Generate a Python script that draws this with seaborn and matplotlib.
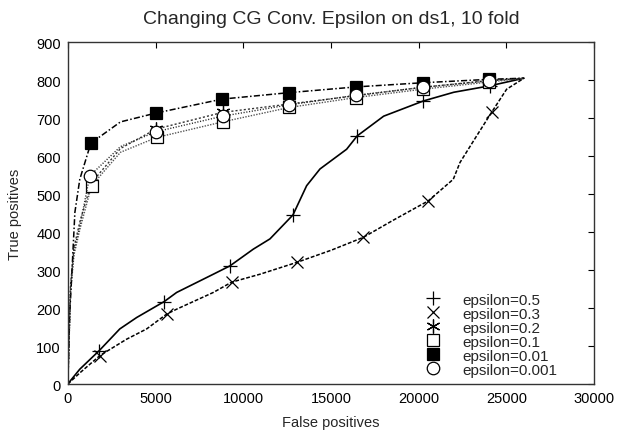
import matplotlib
matplotlib.use("Agg")
import matplotlib.pyplot as plt
import seaborn as sns
from matplotlib.lines import Line2D

sns.set_theme(style="white")
plt.rcParams['font.family'] = ['Liberation Sans', 'DejaVu Sans']

title = "Changing CG Conv. Epsilon on ds1, 10 fold"
xlabel = "False positives"
ylabel = "True positives"
xticks = [0, 5000, 10000, 15000, 20000, 25000, 30000]
yticks = [0, 100, 200, 300, 400, 500, 600, 700, 800, 900]

labels = ["epsilon=0.5", "epsilon=0.3", "epsilon=0.2", "epsilon=0.1",
          "epsilon=0.01", "epsilon=0.001"]

# epsilon=0.5
x05 = [0, 150, 680, 1790, 2960, 3920, 5490, 6200, 8290, 9240, 10570, 11520,
       12830, 13610, 14370, 15890, 16490, 18000, 20260, 22000, 24060, 26000]
y05 = [0, 9, 39, 88, 145, 175, 217, 241, 289, 311, 355, 382,
       445, 522, 566, 618, 653, 705, 745, 768, 785, 805]
m05 = [3, 6, 9, 12, 16, 18, 20]

# epsilon=0.3
x03 = [0, 700, 1830, 3350, 4490, 5630, 6200, 8290, 9330, 10950, 13040, 15000,
       16840, 18500, 20540, 21970, 22350, 23300, 24150, 25010, 26000]
y03 = [0, 30, 75, 118, 145, 184, 197, 241, 268, 289, 320, 352,
       386, 430, 482, 539, 583, 653, 715, 776, 805]
m03 = [2, 5, 8, 10, 12, 14, 18]

# epsilon=0.2
x02 = [0, 150, 350, 700, 1350, 3000, 5020, 8820, 12620, 16420, 20220, 24020, 26000]
y02 = [0, 260, 360, 430, 530, 620, 671, 715, 737, 759, 781, 799, 805]
m02 = [4, 6, 7, 8, 9, 10, 11]

# epsilon=0.1
x01 = [0, 150, 350, 700, 1350, 3000, 5060, 8820, 12620, 16420, 20220, 24020, 26000]
y01 = [0, 240, 340, 410, 522, 610, 649, 690, 728, 754, 776, 795, 805]
m01 = [4, 6, 7, 8, 9, 10, 11]

# epsilon=0.01
x001 = [0, 100, 210, 400, 680, 1310, 3000, 5000, 8800, 12620, 16420, 20220, 24020, 26000]
y001 = [0, 180, 276, 452, 539, 634, 690, 713, 750, 767, 782, 793, 802, 805]
m001 = [5, 7, 8, 9, 10, 11, 12]

# epsilon=0.001
x0001 = [0, 150, 350, 700, 1250, 3000, 5020, 8820, 12620, 16420, 20220, 24020, 26000]
y0001 = [0, 250, 350, 420, 548, 625, 664, 705, 735, 760, 781, 798, 805]
m0001 = [4, 6, 7, 8, 9, 10, 11]

series = [
    (x05, y05, m05, dict(color="black", ls="-", lw=1.2), dict(marker="+", ms=10, mew=0.9, mfc="none")),
    (x03, y03, m03, dict(color="black", ls=(0, (2.5, 1.2)), lw=1.1), dict(marker="x", ms=8, mew=0.9, mfc="none")),
    (x02, y02, m02, dict(color="#333333", ls=(0, (1.5, 1.5)), lw=1.0), dict(marker=(6, 2, 0), ms=10, mew=0.9, mfc="none")),
    (x01, y01, m01, dict(color="#555555", ls=(0, (1, 1)), lw=1.0), dict(marker="s", ms=8, mew=0.9, mfc="white")),
    (x001, y001, m001, dict(color="black", ls=(0, (4, 1.5, 1, 1.5)), lw=1.1), dict(marker="s", ms=9, mew=0.9, mfc="black")),
    (x0001, y0001, m0001, dict(color="#222222", ls=(0, (0.8, 1.2)), lw=1.0), dict(marker="o", ms=9, mew=0.9, mfc="white")),
]

fig = plt.figure(figsize=(6.17, 4.31), dpi=100)
ax = fig.add_axes([0.110, 0.1067, 0.853, 0.7933])

handles = []
for (xs, ys, mk, lkw, mkw), lab in zip(series, labels):
    sns.lineplot(x=xs, y=ys, ax=ax, sort=False, estimator=None, **lkw)
    mx = [xs[i] for i in mk]
    my = [ys[i] for i in mk]
    ax.plot(mx, my, ls="none", mec="black", color="black", **mkw)
    handles.append(Line2D([], [], ls="none", mec="black", color="black", **mkw))

ax.set_xlim(0, 30000)
ax.set_ylim(0, 900)
ax.set_xticks(xticks)
ax.set_yticks(yticks)
ax.tick_params(direction="in", top=True, right=True, length=4, width=0.8,
               labelsize=10.5, colors="black", pad=5)
for s in ax.spines.values():
    s.set_color("#333333")
    s.set_linewidth(1.0)
ax.set_title(title, fontsize=14, pad=14)
ax.set_xlabel(xlabel, fontsize=10.5, labelpad=7)
ax.set_ylabel(ylabel, fontsize=10.5, labelpad=10)

leg = ax.legend(handles, labels, loc="lower right", bbox_to_anchor=(0.95, -0.01),
                frameon=False, fontsize=11, handlelength=1.0, handletextpad=1.4,
                labelspacing=0.0, borderpad=0.2)

fig.savefig("out.png", dpi=100)
